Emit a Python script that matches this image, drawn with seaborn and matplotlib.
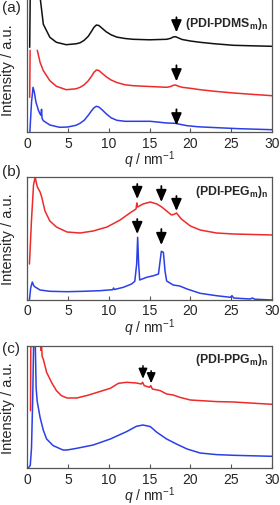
import numpy as np
import pandas as pd
import matplotlib
matplotlib.use("Agg")
import matplotlib.pyplot as plt
import seaborn as sns

nan = np.nan

# panel (a): (PDI-PDMSm)n -- intensities in arbitrary units (offset traces)
a_black_q = [0.33, 0.40, 1.55, 1.62, 2.0, 2.8, 3.6, 4.8, 6.0, 6.5, 7.0, 7.5, 7.9, 8.2, 8.5, 8.8, 9.2, 9.7,
             10.3, 11.0, 12.0, 13.0, 15.0, 17.1, 17.6, 17.9, 18.2, 18.5, 19.0, 20.0, 21.2, 23.0, 25.3, 27.5, 30.0]
a_black_i = [85, 140, 140, 134, 108, 95, 90, 87.6, 88.5, 89.5, 92, 96, 101, 105, 107.3, 106.8, 104, 100.5,
             97.5, 95.2, 93.8, 93, 92.5, 93, 94, 95.3, 95.6, 94.5, 92.8, 91.3, 90, 88.5, 87, 86.5, 86]
a_red_q = [0.33, 0.38, nan, 1.26, 1.6, 2.0, 2.8, 3.6, 4.8, 6.0, 6.5, 7.0, 7.5, 7.9, 8.2, 8.5, 8.8, 9.2, 9.7,
           10.3, 11.0, 12.0, 13.0, 15.0, 17.1, 17.6, 17.9, 18.2, 18.5, 19.0, 20.0, 21.2, 23.0, 25.3, 27.5, 30.0]
a_red_i = [35, 82, nan, 82, 70, 61.6, 51.6, 46, 42.6, 43.5, 45, 47.5, 51.5, 56, 60, 62.3, 61.8, 59, 55.5,
           52.3, 49.8, 47.5, 46.6, 45.8, 45, 45.8, 47, 47.3, 46.2, 45, 44, 42.6, 41, 39.3, 38, 36.6]
a_blue_q = [0.35, 0.55, 0.74, 0.9, 1.1, 1.4, 1.6, 1.72, 1.78, 1.84, 2.0, 2.8, 4.0, 5.0, 6.0, 6.5, 7.0, 7.5,
            7.9, 8.2, 8.5, 8.8, 9.2, 9.7, 10.3, 11.0, 12.0, 13.0, 15.1, 17.1, 18.1, 19.6, 21.0, 23.3, 26.0, 30.0]
a_blue_i = [0, 30, 45, 40, 30, 22, 18.3, 17, 23, 14, 11.6, 7.3, 5, 5.3, 7, 9, 12, 17,
            21.5, 24.5, 26, 25.3, 22.5, 18.5, 14.5, 12, 11, 11, 11, 9.3, 9, 6.6, 5.5, 4.6, 3.6, 2.6]

# panel (b): (PDI-PEGm)n
b_red_q = [0.3, 0.55, 0.8, 1.0, 1.15, 1.27, 1.6, 1.8, 2.2, 2.8, 3.6, 4.9, 6.5, 8.1, 9.8, 11.4, 12.6, 13.35,
           13.45, 13.55, 14.2, 15.1, 15.9, 16.5, 17.1, 17.7, 18.1, 18.3, 18.9, 20.0, 21.2, 23.2, 25.3, 30.0]
b_red_i = [36, 80, 115, 123, 117, 113, 108, 103, 89, 79, 73, 68, 67, 69, 73, 80, 87, 91,
           97, 93, 96, 98, 96, 93, 89, 85, 86, 87, 81, 74, 70, 67, 66, 65]
b_blue_q = [0.3, 0.45, 0.65, 0.85, 1.0, 1.2, 1.6, 2.8, 4.9, 6.9, 8.9, 10.5, 10.6, 10.7, 11.8, 12.8, 13.2,
            13.43, 13.55, 13.67, 13.8, 14.65, 15.5, 16.1, 16.3, 16.45, 16.7, 16.9, 17.1, 17.9, 18.7, 19.6,
            21.2, 23.2, 24.9, 25.1, 25.3, 27.3, 27.6, 27.9, 30.0]
b_blue_i = [0, 12, 18, 14, 13, 12, 10, 8.7, 8.3, 8.7, 9.3, 10.3, 12, 10.5, 12.7, 16, 18.7,
            36, 62.7, 36, 20, 22.7, 24.3, 26, 39, 48.7, 47.7, 29, 19, 15, 14, 11,
            6.7, 4.3, 2.7, 4.3, 2, 1, 2, 0.8, 0]

# panel (c): (PDI-PPGm)n
c_red_q = [0.43, 0.47, 1.6, 1.7, 1.78, 1.85, 2.0, 2.4, 3.0, 3.6, 4.2, 4.9, 6.1, 7.3, 8.9, 10.2, 11.2, 12.2,
           13.4, 14.0, 14.15, 14.35, 15.0, 15.15, 15.35, 16.3, 17.1, 17.9, 18.7, 20.0, 21.2, 23.2, 25.3, 27.3, 30.0]
c_red_i = [57.6, 130, 130, 118, 124, 112, 109, 96, 86, 77.7, 72.7, 70.3, 70.3, 72.7, 76.7, 80, 85, 86,
           85.3, 84.3, 86, 82.7, 81, 82.7, 79.3, 77.7, 74.3, 73.3, 71, 68.3, 67.7, 66.7, 66.3, 65.3, 64]
c_blue_q = [0.15, 0.4, 0.55, 0.7, 0.82, 1.0, 1.12, 1.25, 1.6, 2.0, 2.4, 3.2, 4.4, 4.9, 6.1, 8.1, 10.2, 12.2,
            13.4, 14.2, 15.1, 15.9, 17.1, 18.3, 19.6, 21.2, 23.2, 25.3, 30.0]
c_blue_i = [0, 3, 20, 70, 130, 130, 80, 67, 51, 38, 29.3, 22.7, 18.3, 18.3, 20, 23.3, 29.3, 36.7,
            42, 43.3, 41.7, 36, 29.3, 24.3, 19.3, 15.3, 13.7, 13, 12]

# arrows: q position, tip intensity, tail intensity
a_arrow_q = [18.3, 18.3, 18.3]
a_arrow_tip = [100, 51, 7]
a_arrow_tail = [115, 67, 23]
b_arrow_q = [13.5, 16.45, 18.3, 13.5, 16.45]
b_arrow_tip = [101, 98, 89, 66, 55]
b_arrow_tail = [116, 114, 104, 81, 71]
c_arrow_q = [14.2, 15.2]
c_arrow_tip = [89.5, 85]
c_arrow_tail = [102.5, 97.5]

sample_labels = [r"(PDI-PDMS$_\mathbf{m}$)$_\mathbf{n}$", r"(PDI-PEG$_\mathbf{m}$)$_\mathbf{n}$",
                 r"(PDI-PPG$_\mathbf{m}$)$_\mathbf{n}$"]
panel_letters = ["(a)", "(b)", "(c)"]
x_ticks = [0, 5, 10, 15, 20, 25, 30]

BLACK = "#111111"
RED = "#ee2a2a"
BLUE = "#2b3fe6"

sns.set_theme(style="ticks")
plt.rcParams["font.family"] = ["Liberation Sans", "DejaVu Sans"]
plt.rcParams["mathtext.fontset"] = "custom"
plt.rcParams["mathtext.rm"] = "Liberation Sans"
plt.rcParams["mathtext.it"] = "Liberation Sans:italic"
plt.rcParams["mathtext.bf"] = "Liberation Sans:bold"


def draw_curve(ax, q, i, color):
    # split on NaN gaps, one lineplot per piece
    df = pd.DataFrame({"q": q, "I": i})
    seg = df["q"].isna().cumsum()
    for _, part in df.dropna().groupby(seg[df["q"].notna()]):
        sns.lineplot(data=part, x="q", y="I", ax=ax, color=color, lw=1.1, sort=False,
                     estimator=None)


def draw_arrows(ax, qs, tips, tails, scale=1.0):
    for q, tip, tail in zip(qs, tips, tails):
        style = "-|>,head_length=%.2f,head_width=%.2f" % (0.6 * scale, 0.26 * scale)
        ax.annotate("", xy=(q, tip), xytext=(q, tail),
                    arrowprops=dict(arrowstyle=style, color="black", lw=1.3 * scale,
                                    shrinkA=0, shrinkB=0))


fig = plt.figure(figsize=(2.8, 5.06), dpi=100)
W, H = 280, 506
left, right = 27, 272
# (top px, bottom px) of each panel
boxes = [(-1, 133.3), (177.7, 301), (346.5, 469.3)]
axes = []
for top, bot in boxes:
    ax = fig.add_axes([left / W, 1 - bot / H, (right - left) / W, (bot - top) / H])
    ax.set_ylim(0, bot - top)
    axes.append(ax)

draw_curve(axes[0], a_black_q, a_black_i, BLACK)
draw_curve(axes[0], a_red_q, a_red_i, RED)
draw_curve(axes[0], a_blue_q, a_blue_i, BLUE)
draw_arrows(axes[0], a_arrow_q, a_arrow_tip, a_arrow_tail)

draw_curve(axes[1], b_red_q, b_red_i, RED)
draw_curve(axes[1], b_blue_q, b_blue_i, BLUE)
draw_arrows(axes[1], b_arrow_q, b_arrow_tip, b_arrow_tail)

draw_curve(axes[2], c_red_q, c_red_i, RED)
draw_curve(axes[2], c_blue_q, c_blue_i, BLUE)
draw_arrows(axes[2], c_arrow_q, c_arrow_tip, c_arrow_tail, scale=0.85)

label_y = [0.815, 0.884, 0.89]
letter_y = [8, 172, 349]
for ax, lab, ly, letter, lty in zip(axes, sample_labels, label_y, panel_letters, letter_y):
    ax.set_xlim(0, 30)
    ax.set_xticks(x_ticks)
    ax.set_yticks([])
    ax.tick_params(axis="x", direction="in", length=3, width=0.8, pad=2.5, labelsize=10,
                   color="#555555")
    for s in ax.spines.values():
        s.set_color("#555555")
        s.set_linewidth(0.9)
    ax.set_xlabel(r"$q$ / nm$^{-1}$", fontsize=10, labelpad=-0.8)
    ax.set_ylabel("Intensity / a.u.", fontsize=10.5)
    ax.yaxis.set_label_coords(-0.05, 0.5)
    ax.text(0.985, ly, lab, transform=ax.transAxes, ha="right", va="center", fontsize=8.8,
            fontweight="bold")
    fig.text(2 / W, 1 - lty / H, letter, ha="left", va="center", fontsize=11)

axes[0].yaxis.set_label_coords(-0.05, 0.47)

fig.savefig("out.png", dpi=100)
